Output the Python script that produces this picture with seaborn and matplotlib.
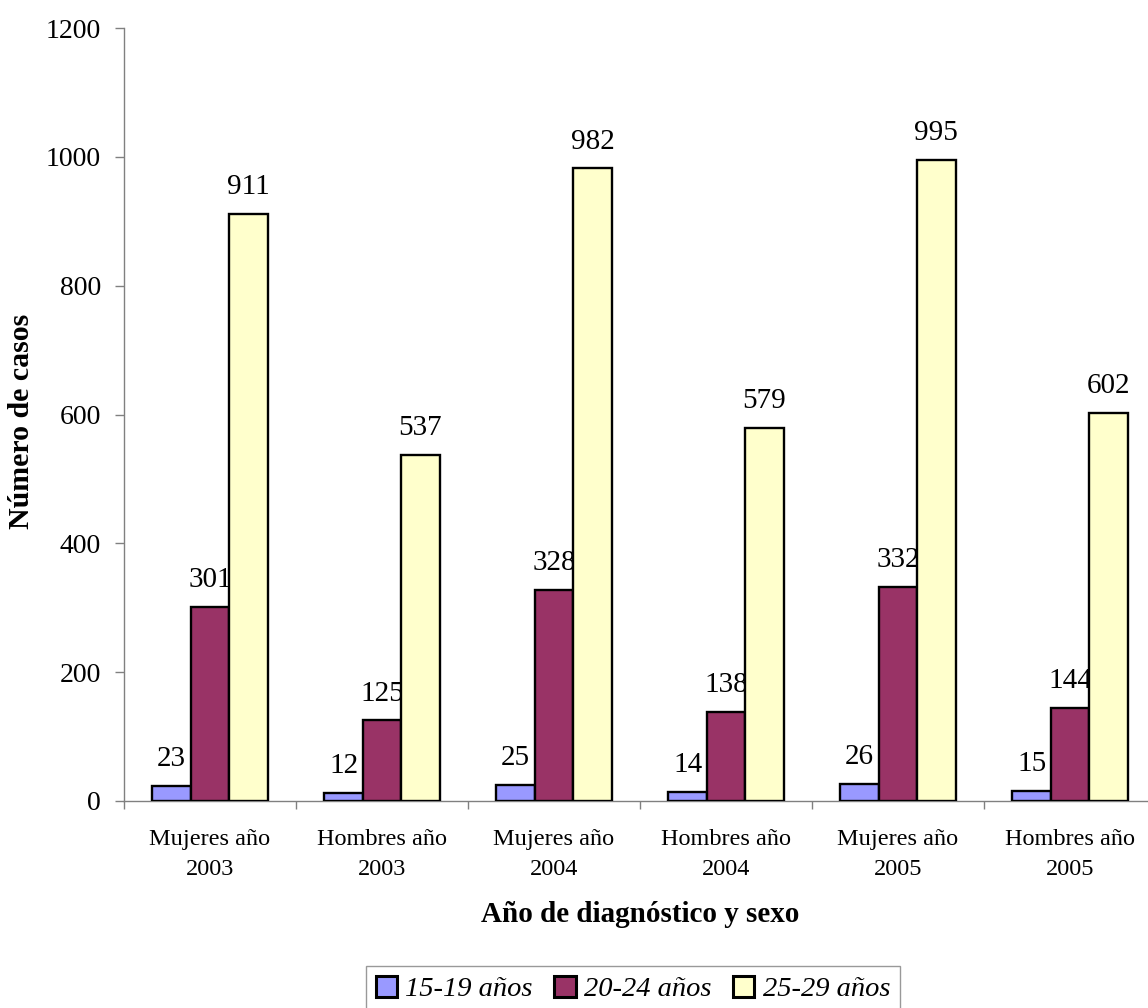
import numpy as np
import pandas as pd
import matplotlib
matplotlib.use("Agg")
import matplotlib.pyplot as plt
import seaborn as sns

categories = ["Mujeres año\n2003", "Hombres año\n2003", "Mujeres año\n2004",
              "Hombres año\n2004", "Mujeres año\n2005", "Hombres año\n2005"]
groups = ["15-19 años", "20-24 años", "25-29 años"]
casos_15_19 = [23, 12, 25, 14, 26, 15]
casos_20_24 = [301, 125, 328, 138, 332, 144]
casos_25_29 = [911, 537, 982, 579, 995, 602]
colors = ["#9999FF", "#993366", "#FFFFCC"]
y_ticks = [0, 200, 400, 600, 800, 1000, 1200]

df = pd.DataFrame({
    "categoria": categories * 3,
    "edad": [g for g in groups for _ in categories],
    "casos": casos_15_19 + casos_20_24 + casos_25_29,
})

sns.set_theme(style="white")
plt.rcParams["font.family"] = ["Liberation Serif", "DejaVu Serif"]
plt.rcParams["text.color"] = "black"
plt.rcParams["axes.labelcolor"] = "black"
plt.rcParams["xtick.color"] = "black"
plt.rcParams["ytick.color"] = "black"

fig = plt.figure(figsize=(11.48, 10.08), dpi=100)
ax = fig.add_axes([124 / 1148, 1 - 801 / 1008, 1032 / 1148, 773 / 1008])

sns.barplot(data=df, x="categoria", y="casos", hue="edad", order=categories,
            hue_order=groups, palette=colors, width=0.67, saturation=1,
            edgecolor="black", linewidth=1.7, zorder=3, ax=ax, legend=True)

# value labels sit behind the bars, as in the original spreadsheet chart
for container in ax.containers:
    for bar in container:
        h = bar.get_height()
        ax.annotate(f"{int(round(h))}", (bar.get_x() + bar.get_width() / 2, h),
                    xytext=(0, 10), textcoords="offset points",
                    ha="center", va="bottom", fontsize=21, zorder=2,
                    color="black", annotation_clip=False)

ax.set_xlim(-0.5, 5.5)
ax.set_ylim(0, 1200)
ax.set_yticks(y_ticks)
ax.set_yticklabels([str(v) for v in y_ticks], fontsize=20)
ax.tick_params(axis="y", length=6.5, width=1, color="#808080", labelcolor="black",
               pad=10, direction="out", left=True)

ax.set_xticks(np.arange(-0.5, 6, 1))
ax.set_xticklabels([])
ax.tick_params(axis="x", which="major", length=5.5, width=1, color="#808080",
               direction="out", bottom=True)
ax.set_xticks(range(6), minor=True)
ax.set_xticklabels(categories, minor=True, fontsize=17.5, linespacing=1.55)
ax.tick_params(axis="x", which="minor", length=0, pad=20, labelcolor="black")

for side in ["top", "right"]:
    ax.spines[side].set_visible(False)
for side in ["left", "bottom"]:
    ax.spines[side].set_color("#808080")
    ax.spines[side].set_linewidth(1)

ax.set_xlabel("")
ax.set_ylabel("")
fig.text(640 / 1148, 1 - 915 / 1008, "Año de diagnóstico y sexo",
         ha="center", va="center", fontsize=21, fontweight="bold")
fig.text(22 / 1148, 1 - 421 / 1008, "Número de casos", rotation=90,
         ha="center", va="center", fontsize=21.5, fontweight="bold")

handles, labels = ax.get_legend_handles_labels()
ax.get_legend().remove()
for h in handles:
    h.set_linewidth(2.2)
leg = fig.legend(handles, labels, loc="upper center", ncol=3,
                 bbox_to_anchor=(633 / 1148, 1 - 966 / 1008),
                 frameon=True, fancybox=False, edgecolor="#808080",
                 prop={"style": "italic", "size": 20.5},
                 handlelength=0.75, handleheight=0.75, handletextpad=0.3,
                 columnspacing=0.75, borderpad=0.35, borderaxespad=0)
leg.get_frame().set_linewidth(1)

fig.savefig("out.png", dpi=100, facecolor="white")
